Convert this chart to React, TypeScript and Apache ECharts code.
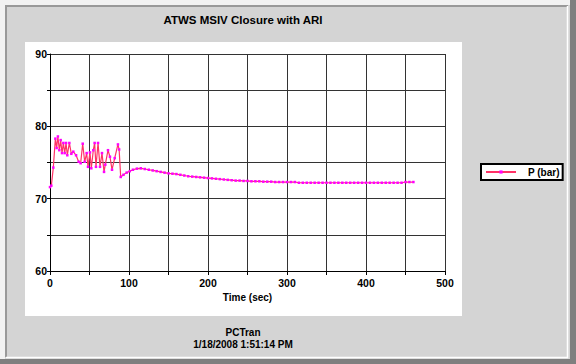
import React, { useEffect, useRef } from "react";
import * as echarts from "echarts";

const chartTitle = "ATWS MSIV Closure with ARI";
const footerLines = ["PCTran", "1/18/2008 1:51:14 PM"];
const xAxisTitle = "Time (sec)";
const seriesName = "P (bar)";

const timeSec = [
  0, 1.7, 4.2, 6.8, 8.4, 10, 11.8, 13.5, 15.2, 16.9, 18.6, 20.3, 21.9, 24.5, 27, 29.5, 33, 36.3, 38.8,
  41.4, 43.9, 46.4, 48.1, 50.6, 52.3, 54.8, 56.5, 58.2, 60.8, 63.3, 65.8, 68.4, 70, 73.4, 75.9, 78.5,
  81.9, 86, 87.5, 89.5, 93, 97, 101, 105, 110, 115, 120, 125, 130, 135, 140, 145, 150, 155, 160, 165,
  170, 175, 180, 185, 190, 195, 200, 205, 210, 215, 220, 225, 230, 235, 240, 245, 250, 255, 260, 265,
  270, 275, 280, 285, 290, 295, 300, 305, 310, 315, 320, 325, 330, 335, 340, 345, 350, 355, 360, 365,
  370, 375, 380, 385, 390, 395, 400, 405, 410, 415, 420, 425, 430, 435, 440, 445, 450, 455, 460,
];

const pressureBar = [
  71.6, 71.8, 74.3, 78.3, 77.0, 78.6, 76.7, 78.1, 76.3, 77.7, 76.3, 77.7, 76.0, 77.7, 76.2, 76.5, 76.0,
  75.1, 74.9, 77.6, 75.1, 76.3, 74.4, 76.4, 74.2, 76.7, 77.7, 74.4, 77.7, 74.4, 76.3, 73.7, 74.7, 76.7,
  75.8, 74.0, 75.6, 77.5, 76.8, 73.0, 73.3, 73.6, 73.8, 74.0, 74.15, 74.2, 74.1, 74.0, 73.9, 73.8, 73.7,
  73.6, 73.5, 73.45, 73.4, 73.3, 73.2, 73.1, 73.05, 73.0, 72.95, 72.9, 72.85, 72.8, 72.75, 72.7, 72.65,
  72.6, 72.55, 72.5, 72.5, 72.45, 72.45, 72.4, 72.4, 72.4, 72.35, 72.35, 72.35, 72.3, 72.3, 72.3, 72.3,
  72.3, 72.3, 72.2, 72.2, 72.2, 72.2, 72.2, 72.2, 72.2, 72.2, 72.2, 72.2, 72.2, 72.2, 72.2, 72.2, 72.2,
  72.2, 72.2, 72.2, 72.2, 72.2, 72.2, 72.2, 72.2, 72.2, 72.2, 72.2, 72.2, 72.3, 72.3, 72.3,
];

const xMin = 0;
const xMax = 500;
const xStep = 50;
const yMin = 60;
const yMax = 90;
const yStep = 5;

const FONT = "'Liberation Sans', Arial, sans-serif";

export default function App() {
  const ref = useRef<HTMLDivElement>(null);

  useEffect(() => {
    if (!ref.current) return;
    const chart = echarts.init(ref.current, null, { renderer: "svg" });
    const data = timeSec.map((t, i) => [t, pressureBar[i]]);

    chart.setOption({
      animation: false,
      backgroundColor: "#d4d4d4",
      graphic: [
        { type: "rect", z: -10, shape: { x: 0, y: 0, width: 576, height: 5 }, style: { fill: "#f2f2f2" } },
        { type: "rect", z: -10, shape: { x: 0, y: 0, width: 5, height: 364 }, style: { fill: "#f2f2f2" } },
        { type: "rect", z: -10, shape: { x: 570, y: 0, width: 6, height: 364 }, style: { fill: "#7f7f7f" } },
        { type: "rect", z: -10, shape: { x: 0, y: 359, width: 576, height: 5 }, style: { fill: "#7f7f7f" } },
        {
          type: "polyline", z: -9,
          shape: { points: [[6, 357], [6, 6], [568, 6]] },
          style: { stroke: "#999999", lineWidth: 2, fill: null },
        },
        {
          type: "polyline", z: -9,
          shape: { points: [[6, 357.5], [567.5, 357.5], [567.5, 6]] },
          style: { stroke: "#ffffff", lineWidth: 1.5, fill: null },
        },
        { type: "rect", z: -8, shape: { x: 25, y: 42, width: 437, height: 274 }, style: { fill: "#ffffff" } },
        {
          type: "text", x: 243, y: 20, z: 10,
          style: { text: chartTitle, fill: "#000", font: `bold 11.5px ${FONT}`, textAlign: "center", textVerticalAlign: "middle" },
        },
        {
          type: "text", x: 243, y: 332, z: 10,
          style: { text: footerLines[0], fill: "#000", font: `bold 10px ${FONT}`, textAlign: "center", textVerticalAlign: "middle" },
        },
        {
          type: "text", x: 243, y: 344, z: 10,
          style: { text: footerLines[1], fill: "#000", font: `bold 10px ${FONT}`, textAlign: "center", textVerticalAlign: "middle" },
        },
      ],
      grid: { left: 50, top: 54, width: 395, height: 217, containLabel: false },
      legend: {
        left: 481,
        top: 164,
        padding: [3, 3, 3, 4],
        itemWidth: 30,
        itemHeight: 4,
        backgroundColor: "#ffffff",
        borderColor: "#000000",
        borderWidth: 2,
        borderRadius: 0,
        textStyle: { color: "#000", fontWeight: "bold", fontSize: 10, fontFamily: FONT, padding: [0, 0, 0, 7] },
        data: [seriesName],
      },
      xAxis: {
        type: "value",
        min: xMin,
        max: xMax,
        interval: xStep,
        name: xAxisTitle,
        nameLocation: "middle",
        nameGap: 21,
        nameTextStyle: { color: "#000", fontWeight: "bold", fontSize: 10, fontFamily: FONT },
        axisLine: { show: true, lineStyle: { color: "#000", width: 1 } },
        axisTick: { show: true, length: 4, lineStyle: { color: "#000" } },
        axisLabel: {
          color: "#000",
          fontWeight: "bold",
          fontSize: 10.5,
          fontFamily: FONT,
          margin: 6,
          formatter: (v: number) => (v % 100 === 0 ? String(v) : ""),
        },
        splitLine: { show: true, lineStyle: { color: "#333333", width: 1 } },
      },
      yAxis: {
        type: "value",
        min: yMin,
        max: yMax,
        interval: yStep,
        axisLine: { show: true, lineStyle: { color: "#000", width: 1 } },
        axisTick: { show: true, length: 3, lineStyle: { color: "#000" } },
        axisLabel: {
          color: "#000",
          fontWeight: "bold",
          fontSize: 10.5,
          fontFamily: FONT,
          margin: 3,
          formatter: (v: number) => (v % 10 === 0 ? String(v) : ""),
        },
        splitLine: { show: true, lineStyle: { color: "#333333", width: 1 } },
      },
      series: [
        {
          name: seriesName,
          type: "line",
          data,
          showSymbol: true,
          showAllSymbol: true,
          symbol: "rect",
          symbolSize: 2.5,
          itemStyle: { color: "#ff00ff" },
          lineStyle: { color: "#ff3366", width: 1.2 },
          z: 5,
        },
      ],
    });

    return () => chart.dispose();
  }, []);

  return <div ref={ref} style={{ position: "absolute", left: 0, top: 0, width: 576, height: 364 }} />;
}
